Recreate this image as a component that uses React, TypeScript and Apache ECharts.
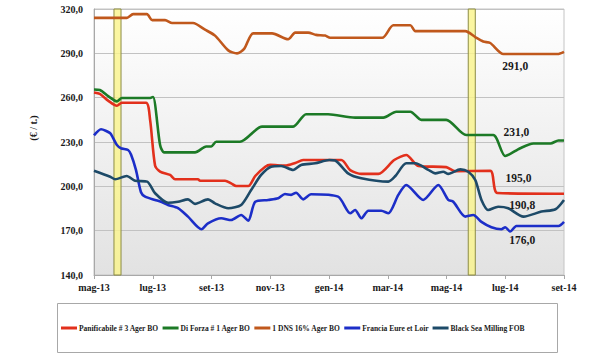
import React, { useEffect, useRef } from "react";
import * as echarts from "echarts";

// x = months elapsed since May 2013 (0 = mag-13, 16 = set-14)
const monthLabels = ["mag-13", "lug-13", "set-13", "nov-13", "gen-14", "mar-14", "mag-14", "lug-14", "set-14"];
const yTicks = [140, 170, 200, 230, 260, 290, 320];

const panificabile: [number, number][] = [
  [0, 263.5], [0.2, 262.5], [0.48, 258], [0.78, 254.5], [0.95, 256.6], [1.77, 256.6], [1.91, 245],
  [2.08, 214], [2.25, 210], [2.59, 207.7], [2.76, 204.8], [3.54, 204.8], [3.61, 203.8], [4.46, 203.8],
  [4.67, 202], [4.84, 200.2], [5.25, 200.2], [5.49, 207], [5.83, 213.3], [6.0, 214.5], [6.5, 214],
  [6.85, 215.8], [7.12, 217.8], [8.42, 217.8], [8.72, 211], [9.1, 208.4], [9.68, 208.4], [10.22, 217.8],
  [10.63, 221.2], [11.04, 213.8], [11.99, 213], [12.3, 210.2], [13.49, 210.5], [13.73, 195.5], [16, 195.0],
];

const diForza: [number, number][] = [
  [0, 265.5], [0.2, 265.2], [0.48, 261], [0.78, 257.5], [0.95, 259.8], [1.91, 259.8], [2.01, 260.5],
  [2.25, 228], [2.39, 223], [3.44, 223], [3.82, 227], [3.99, 227], [4.16, 230.2], [4.97, 230.2],
  [5.72, 240.4], [6.78, 240.4], [7.22, 248.8], [7.97, 248.8], [8.89, 246.5], [9.85, 246.5], [10.29, 250.5],
  [10.77, 250.5], [11.14, 245], [11.99, 245], [12.67, 234.7], [13.59, 234.7], [14.0, 220.5], [14.51, 225.8],
  [14.96, 229], [15.54, 229], [15.81, 231], [16, 231.0],
];

const dns16: [number, number][] = [
  [0, 314], [1.12, 314], [1.33, 316.5], [1.8, 316.5], [1.98, 312.5], [2.42, 312.5], [2.66, 310.5],
  [3.37, 310.5], [3.78, 306], [4.12, 302], [4.57, 292], [4.87, 290], [5.11, 293], [5.42, 303.5],
  [6.06, 303.5], [6.61, 299.5], [6.85, 304], [7.29, 304], [7.56, 302.5], [7.87, 302], [8.04, 300.5],
  [9.81, 300.5], [10.19, 309], [10.77, 309], [10.94, 305], [12.64, 305], [12.98, 301], [13.25, 298],
  [13.49, 297], [13.94, 289.5], [15.78, 289.5], [16, 291.0],
];

const francia: [number, number][] = [
  [0, 234.5], [0.24, 238.6], [0.55, 236], [0.65, 232.7], [0.78, 228], [0.92, 225.8], [1.16, 224.6],
  [1.26, 221.5], [1.43, 211], [1.6, 196], [1.74, 193], [2.08, 190.8], [2.28, 189.6], [2.52, 187.4],
  [2.86, 185.2], [3.2, 179.5], [3.66, 171], [3.88, 175], [4.33, 178.4], [4.67, 177.2], [5.01, 180.6],
  [5.25, 176.8], [5.49, 189.6], [5.93, 190.8], [6.27, 191.9], [6.5, 194.8], [6.71, 194.2], [6.88, 195.7],
  [7.12, 191.2], [7.39, 194.6], [8.31, 193], [8.72, 181.8], [8.89, 184], [9.1, 178.4], [9.34, 183.5],
  [9.78, 183.5], [10.02, 181.8], [10.36, 194.2], [10.63, 200.9], [11.21, 190.8], [11.72, 200.9],
  [12.06, 190.8], [12.23, 189.6], [12.64, 179.5], [12.91, 180.6], [13.19, 176], [13.53, 172.3],
  [13.87, 171], [14.0, 172.3], [14.17, 169.4], [14.38, 173.2], [15.81, 173.2], [16, 176.0],
];

const blackSea: [number, number][] = [
  [0, 210.5], [0.55, 206.5], [0.72, 204.8], [1.11, 207], [1.4, 203.8], [1.81, 203.2], [2.08, 195.3],
  [2.52, 188.9], [2.86, 189.6], [3.2, 191.2], [3.44, 188.1], [3.88, 191.2], [4.12, 188.5], [4.57, 185.2],
  [5.01, 187.4], [5.35, 197.5], [5.69, 207.7], [6.03, 213.3], [6.37, 213.8], [6.78, 211.1], [7.05, 214.5],
  [7.53, 215.6], [8.01, 217.8], [8.21, 217.5], [8.65, 208.8], [9.1, 205.5], [10.02, 203.2], [10.26, 207],
  [10.63, 215.6], [10.94, 215.6], [11.38, 211.1], [11.62, 208.8], [11.89, 209.9], [12.06, 208.4],
  [12.47, 211.5], [12.74, 209.9], [12.98, 204.3], [13.19, 190.8], [13.42, 184], [13.76, 186.2],
  [14.1, 185.2], [14.62, 179.5], [15.23, 182.9], [15.71, 184.5], [16, 190.8],
];

// highlighted periods (months since May 2013)
const highlightPeriods: [number, number][] = [
  [0.68, 0.92],
  [12.74, 12.98],
];

const seriesDefs = [
  { name: "Panificabile # 3 Ager BO", data: panificabile, color: "#e2301c", labelAt: [14.45, 205.7] },
  { name: "Di Forza # 1 Ager BO", data: diForza, color: "#1c7a26", labelAt: [14.38, 237.1] },
  { name: "1 DNS 16% Ager BO", data: dns16, color: "#c0581c", labelAt: [14.34, 281.1] },
  { name: "Francia Eure et Loir", data: francia, color: "#1c2ec8", labelAt: [14.58, 163.7] },
  { name: "Black Sea Milling FOB", data: blackSea, color: "#1d4a68", labelAt: [14.58, 187.4] },
];

const FONT = "'Liberation Serif', 'Times New Roman', serif";
const fmt = (v: number) => v.toFixed(1).replace(".", ",");

export default function App() {
  const ref = useRef<HTMLDivElement>(null);
  useEffect(() => {
    if (!ref.current) return;
    const chart = echarts.init(ref.current, null, { renderer: "svg" });
    const series: any[] = seriesDefs.map((s) => {
      const last = s.data[s.data.length - 1][1];
      return {
        name: s.name,
        type: "line",
        data: s.data,
        symbol: "none",
        smooth: 0.25,
        z: 3,
        lineStyle: { color: s.color, width: 2.6 },
        itemStyle: { color: s.color },
        markPoint: {
          silent: true,
          symbol: "rect",
          symbolSize: 1,
          itemStyle: { color: "rgba(0,0,0,0)" },
          label: {
            show: true,
            position: "inside",
            formatter: () => fmt(last),
            fontFamily: FONT,
            fontWeight: "bold",
            fontSize: 11.5,
            color: "#1a1a1a",
          },
          data: [{ coord: s.labelAt, value: last }],
        },
      };
    });
    series.push({
      name: "__bands",
      type: "line",
      data: [],
      z: 10,
      markArea: {
        silent: true,
        itemStyle: { color: "rgba(250,244,140,0.82)", borderColor: "#8c8c45", borderWidth: 1 },
        data: highlightPeriods.map(([a, b]) => [{ xAxis: a }, { xAxis: b }]),
      },
    });

    chart.setOption({
      animation: false,
      backgroundColor: "#ffffff",
      grid: {
        left: 94,
        right: 36,
        top: 9,
        bottom: 79,
        show: true,
        borderColor: "#c4c4c4",
        borderWidth: 1,
        backgroundColor: new echarts.graphic.LinearGradient(0, 0, 0, 1, [
          { offset: 0, color: "#ffffff" },
          { offset: 1, color: "#e2e2e2" },
        ]),
      },
      xAxis: {
        type: "value",
        min: 0,
        max: 16,
        interval: 2,
        axisLine: { show: true, lineStyle: { color: "#a8a8a8" } },
        axisTick: { show: true, length: 4, lineStyle: { color: "#a8a8a8" } },
        splitLine: { show: false },
        axisLabel: {
          formatter: (v: number) => monthLabels[Math.round(v / 2)] ?? "",
          fontFamily: FONT,
          fontWeight: "bold",
          fontSize: 10,
          color: "#1a1a1a",
          margin: 7,
        },
      },
      yAxis: {
        type: "value",
        min: yTicks[0],
        max: yTicks[yTicks.length - 1],
        interval: 30,
        axisLine: { show: true, lineStyle: { color: "#a8a8a8" } },
        axisTick: { show: false },
        splitLine: { show: true, lineStyle: { color: "#c2c2c2", width: 1 } },
        axisLabel: {
          formatter: (v: number) => fmt(v),
          fontFamily: FONT,
          fontWeight: "bold",
          fontSize: 10,
          color: "#1a1a1a",
          margin: 11,
        },
      },
      legend: {
        data: seriesDefs.map((s) => s.name),
        left: 57,
        top: 303,
        width: 590,
        padding: [21, 4, 21, 4],
        icon: "rect",
        itemWidth: 16,
        itemHeight: 3,
        itemGap: 4,
        z: 5,
        textStyle: { fontFamily: FONT, fontWeight: "bold", fontSize: 7.5, color: "#1a1a1a", padding: [0, 0, 0, -3] },
      },
      graphic: {
        elements: [
          {
            type: "polyline",
            z: 1,
            silent: true,
            shape: {
              points: [
                [57.5, 303.5],
                [557.5, 303.5],
                [557.5, 352.5],
                [57.5, 352.5],
                [57.5, 303.5],
              ],
            },
            style: { stroke: "#a8a8a8", lineWidth: 1, fill: null },
          },
          {
            type: "text",
            x: 33,
            y: 128,
            rotation: Math.PI / 2,
            style: {
              text: "(€ / t.)",
              fontFamily: FONT,
              fontWeight: "bold",
              fontSize: 10,
              fill: "#1a1a1a",
              align: "center",
              verticalAlign: "middle",
            },
          },
        ],
      },
      series,
    });
    return () => chart.dispose();
  }, []);
  return (
    <div
      ref={ref}
      style={{ position: "fixed", left: 0, top: 0, width: 600, height: 354 }}
    />
  );
}
